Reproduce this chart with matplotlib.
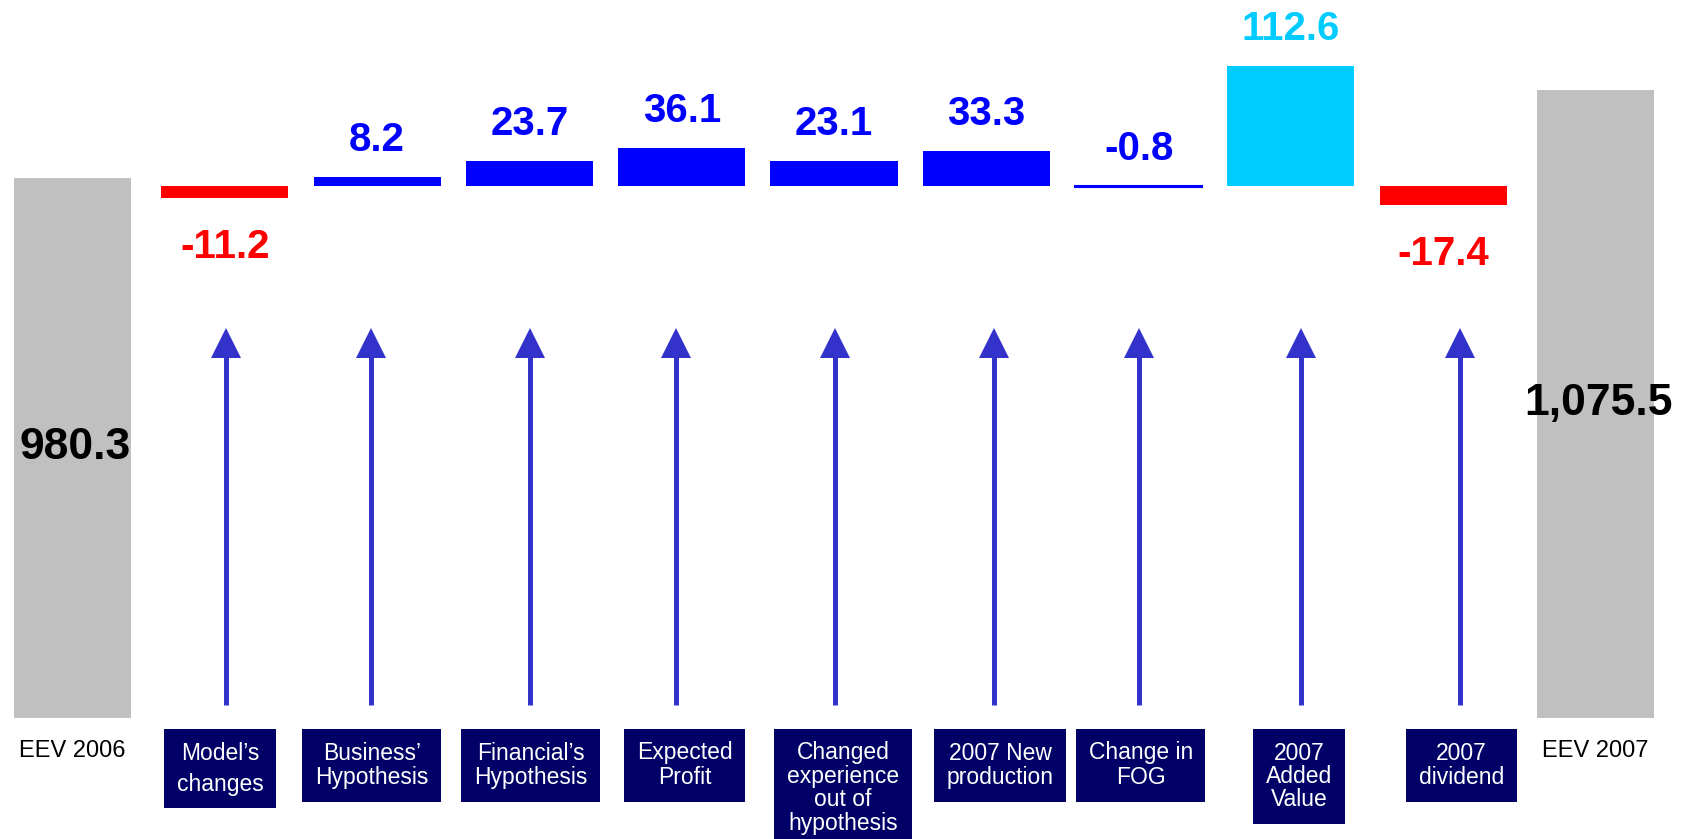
import numpy as np
import matplotlib
matplotlib.use("Agg")
import matplotlib.pyplot as plt

plt.rcParams['font.family'] = ['Liberation Sans', 'DejaVu Sans']

# EEV walk 2006 -> 2007
start_label, end_label = "EEV 2006", "EEV 2007"
start_value, end_value = 980.3, 1075.5
steps = ["Model\u2019s\nchanges", "Business\u2019\nHypothesis", "Financial\u2019s\nHypothesis",
         "Expected\nProfit", "Changed\nexperience\nout of\nhypothesis", "2007 New\nproduction",
         "Change in\nFOG", "2007\nAdded\nValue", "2007\ndividend"]
step_values = [-11.2, 8.2, 23.7, 36.1, 23.1, 33.3, -0.8, 112.6, -17.4]
step_colors = ["#FF0000", "#0000FF", "#0000FF", "#0000FF", "#0000FF", "#0000FF",
               "#0000FF", "#00CCFF", "#FF0000"]

# layout (pixel-ish units, 1 unit ~ 1.065 px for the steps)
px = 1.065
gray_floor = 396.1       # broken axis for the two totals
gray_px = 0.9244
box_spacing = [1.45, 1.1, 1.1, 1.1, 1.02, 1.1, 1.1, 1.02, 1.1]
arrow_shift = [0.007, -0.042, 0.007, -0.035, 0.007, 0.049, 0.0, 0.064, 0.113]
box_shift = [-0.032, -0.035, 0.007, 0.021, 0.060, 0.092, 0.014, 0.053, 0.120]

fig = plt.figure(figsize=(16.89, 8.39), dpi=100)
ax = fig.add_axes([0, 0, 1, 1])
ax.set_axis_off()
ax.set_xlim(-72.5 / 152.3, (1689 - 72.5) / 152.3)
ax.set_ylim(-(839 - 186) / px, 186 / px)

n = len(steps)
xs = np.arange(1, n + 1)

bars = ax.bar(xs, step_values, width=0.834, color=step_colors, linewidth=0)
for b, v, c in zip(bars, step_values, step_colors):
    if abs(v) < 2:
        b.set_edgecolor(c)
        b.set_linewidth(1.5)

for x, v, c in zip(xs, step_values, step_colors):
    if c == "#FF0000":
        ax.text(x, v - 60 / px, f"{v:.1f}", ha='center', va='baseline',
                fontsize=29, fontweight='bold', color=c)
    else:
        top = max(v, 0)
        ax.text(x, top + 26 / px, f"{v:.1f}", ha='center', va='baseline',
                fontsize=29, fontweight='bold', color=c)

# arrows
tail_y = (186 - 705) / px
base_y = (186 - 356) / px
head_y = (186 - 342.5) / px
for x, dx in zip(xs, arrow_shift):
    ax.plot([x + dx, x + dx], [tail_y, base_y], color="#3333CC", lw=3.6, solid_capstyle='butt')
    ax.plot(x + dx, head_y, marker='^', ms=21, color="#3333CC", mec="#3333CC", mew=0)

# category boxes
box_y = (186 - 741.5) / px
for x, dx, s, ls in zip(xs, box_shift, steps, box_spacing):
    ax.text(x + dx, box_y, s, ha='center', va='top', fontsize=16.5, color='white',
            linespacing=ls,
            bbox=dict(boxstyle='square,pad=0.55', fc='#000066', ec='none'))

lab_y = (186 - 751) / px
ax.text(0, lab_y, start_label, ha='center', va='center', fontsize=17, color='black')
ax.text(n + 1, lab_y, end_label, ha='center', va='center', fontsize=17, color='black')

# totals on their own (broken) scale
ax2 = ax.twinx()
ax2.set_axis_off()
ax2.set_ylim(gray_floor - 121 / gray_px, gray_floor + 718 / gray_px)
totals = [start_value, end_value]
tx = [0, n + 1]
ax2.bar(tx, [t - gray_floor for t in totals], bottom=gray_floor, width=0.768,
        color="#C0C0C0", linewidth=0)
for x, t in zip(tx, totals):
    ax2.text(x + 0.02, (t + gray_floor) / 2, f"{t:,.1f}", ha='center', va='center',
             fontsize=32, fontweight='bold', color='black')

fig.savefig("out.png", dpi=100)
